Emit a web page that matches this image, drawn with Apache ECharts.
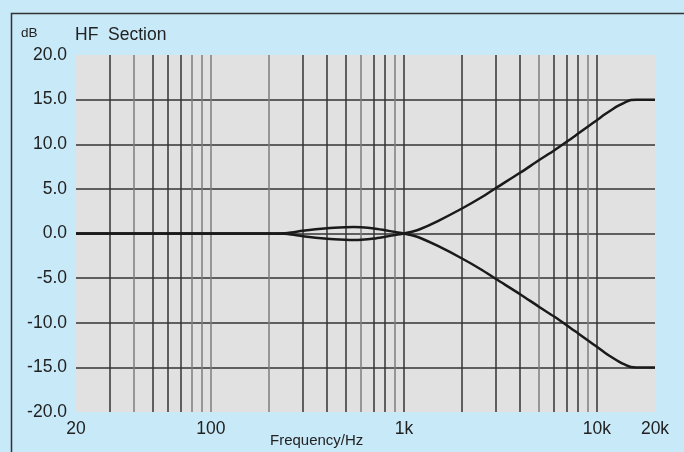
<!DOCTYPE html>
<html>
<head>
<meta charset="utf-8">
<script src="https://cdn.jsdelivr.net/npm/echarts@6/dist/echarts.min.js"></script>
<style>
html,body{margin:0;padding:0;background:#c8e9f8;}
#chart{width:684px;height:452px;}
</style>
</head>
<body>
<div id="chart"></div>
<script>
// Data
var freqs = [20, 100, 200, 250, 300, 400, 500, 550, 600, 700, 800, 900, 1000, 1100, 1200, 1500, 2000, 2500, 3000, 4000, 5000, 6000, 7000, 8000, 9000, 10000, 11000, 12000, 13000, 14000, 15000, 16000, 20000];
var boostDb = [0, 0, 0, -0.05, -0.3, -0.58, -0.7, -0.72, -0.7, -0.56, -0.36, -0.17, 0, 0.2, 0.45, 1.4, 2.8, 4.0, 5.1, 6.8, 8.2, 9.3, 10.3, 11.2, 12.0, 12.7, 13.35, 13.9, 14.35, 14.7, 14.95, 15, 15];
var cutDb = [0, 0, 0, 0.05, 0.3, 0.58, 0.7, 0.72, 0.7, 0.56, 0.36, 0.17, 0, -0.2, -0.45, -1.4, -2.8, -4.0, -5.1, -6.8, -8.2, -9.3, -10.3, -11.2, -12.0, -12.7, -13.35, -13.9, -14.35, -14.7, -14.95, -15, -15];
var gridFreqs = [30, 40, 50, 60, 70, 80, 90, 100, 200, 300, 400, 500, 600, 700, 800, 900, 1000, 2000, 3000, 4000, 5000, 6000, 7000, 8000, 9000, 10000];
var lightGridFreqs = [40, 80, 90, 100, 200, 600, 900, 5000, 9000];
var xTickLabels = {20: '20', 100: '100', 1000: '1k', 10000: '10k', 20000: '20k'};
var yMin = -20, yMax = 20, yStep = 5;

var boostPts = freqs.map(function (f, i) { return [f, boostDb[i]]; });
var cutPts = freqs.map(function (f, i) { return [f, cutDb[i]]; });

var chart = echarts.init(document.getElementById('chart'));
var txt = '#222';
var font = '"Liberation Sans", Arial, sans-serif';

var ySplitColors = [];
for (var v = yMin; v <= yMax; v += yStep) {
  ySplitColors.push(v === yMin || v === yMax ? 'rgba(0,0,0,0)' : '#333');
}

chart.setOption({
  backgroundColor: '#c8e9f8',
  animation: false,
  textStyle: { fontFamily: font },
  grid: { left: 76, right: 29, top: 55, bottom: 40, show: true, backgroundColor: '#e1e1e1', borderWidth: 0 },
  graphic: [
    { type: 'rect', shape: { x: 11.5, y: 13.5, width: 800, height: 600 }, style: { fill: 'none', stroke: '#333', lineWidth: 1.5 }, silent: true },
    { type: 'text', left: 21, top: 26, style: { text: 'dB', fill: txt, font: '13.5px ' + font } },
    { type: 'text', left: 75, top: 26, style: { text: 'HF  Section', fill: txt, font: '17.5px ' + font } },
    { type: 'text', left: 270, top: 433, style: { text: 'Frequency/Hz', fill: txt, font: '15px ' + font } }
  ],
  xAxis: {
    type: 'log', logBase: 10, min: 20, max: 20000,
    axisLine: { show: false }, axisTick: { show: false }, splitLine: { show: false },
    axisLabel: {
      show: true, showMinLabel: true, showMaxLabel: true, margin: 8,
      color: txt, fontSize: 17.5, fontFamily: font,
      formatter: function (val) {
        var k = Math.round(val);
        return xTickLabels[k] !== undefined ? xTickLabels[k] : '';
      }
    }
  },
  yAxis: {
    type: 'value', min: yMin, max: yMax, interval: yStep,
    axisLine: { show: false }, axisTick: { show: false },
    splitLine: { show: true, lineStyle: { color: ySplitColors, width: 1.5 } },
    axisLabel: { color: txt, fontSize: 17.5, fontFamily: font, margin: 9,
      formatter: function (val) { return val.toFixed(1); } }
  },
  series: [
    {
      type: 'line', data: [], z: 1, silent: true,
      markLine: {
        silent: true, symbol: 'none', label: { show: false }, animation: false,
        data: gridFreqs.map(function (f) {
          return { xAxis: f, lineStyle: { type: 'solid', width: 1.5, color: lightGridFreqs.indexOf(f) >= 0 ? '#7d7d7d' : '#333' } };
        })
      }
    },
    { type: 'line', data: boostPts, smooth: 0.3, showSymbol: false, z: 5, lineStyle: { color: '#1a1a1a', width: 2.5 } },
    { type: 'line', data: cutPts, smooth: 0.3, showSymbol: false, z: 5, lineStyle: { color: '#1a1a1a', width: 2.5 } }
  ]
});
</script>
</body>
</html>
